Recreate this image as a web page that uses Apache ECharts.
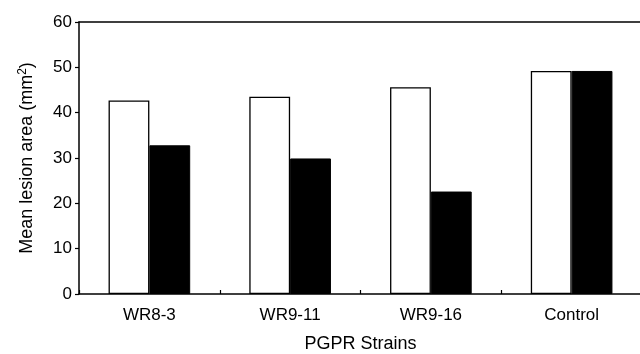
<!DOCTYPE html>
<html>
<head>
<meta charset="utf-8">
<script src="https://cdn.jsdelivr.net/npm/echarts@6/dist/echarts.min.js"></script>
<style>
html,body{margin:0;padding:0;background:#fff;}
#c{width:640px;height:354px;}
</style>
</head>
<body>
<div id="c"></div>
<script>
const categories = ['WR8-3', 'WR9-11', 'WR9-16', 'Control'];
const whiteSeries = [42.7, 43.5, 45.6, 49.2];
const blackSeries = [32.8, 29.9, 22.6, 49.2];
const yTicks = [0, 10, 20, 30, 40, 50, 60];

const font = 'Liberation Sans, Arial, sans-serif';
const chart = echarts.init(document.getElementById('c'), null, {renderer: 'canvas'});
chart.setOption({
  animation: false,
  backgroundColor: '#fff',
  grid: {left: 79, right: -2, top: 22, bottom: 60, show: false, containLabel: false, outerBoundsMode: 'none'},
  xAxis: [{
    type: 'category',
    data: categories,
    name: 'PGPR Strains',
    nameLocation: 'middle',
    nameGap: 41,
    nameTextStyle: {fontFamily: font, fontSize: 18, color: '#000'},
    axisLine: {show: true, lineStyle: {color: '#000', width: 1.5}},
    axisTick: {show: true, inside: true, length: 4, lineStyle: {color: '#000', width: 1.2}},
    axisLabel: {fontFamily: font, fontSize: 17, color: '#000', margin: 13},
    splitLine: {show: false}
  }, {
    type: 'category',
    data: categories,
    position: 'top',
    axisLine: {show: true, lineStyle: {color: '#000', width: 1.5}},
    axisTick: {show: false},
    axisLabel: {show: false},
    splitLine: {show: false}
  }],
  yAxis: {
    type: 'value',
    min: yTicks[0],
    max: yTicks[yTicks.length - 1],
    interval: 10,
    name: 'Mean lesion area (mm{sup|2})',
    nameLocation: 'middle',
    nameRotate: 90,
    nameGap: 42,
    nameTextStyle: {
      fontFamily: font, fontSize: 18, color: '#000',
      rich: {sup: {fontFamily: font, fontSize: 12, color: '#000', verticalAlign: 'top', padding: [0, 0, 8, 0]}}
    },
    axisLine: {show: true, lineStyle: {color: '#000', width: 1.5}},
    axisTick: {show: true, inside: false, length: 4, lineStyle: {color: '#000', width: 1.2}},
    axisLabel: {fontFamily: font, fontSize: 17, color: '#000', margin: 7},
    splitLine: {show: false}
  },
  series: [
    {
      name: 'A',
      type: 'bar',
      data: whiteSeries,
      barGap: '0%',
      barCategoryGap: '42%',
      itemStyle: {color: '#fff', borderColor: '#000', borderWidth: 1.3}
    },
    {
      name: 'B',
      type: 'bar',
      data: blackSeries,
      barGap: '0%',
      barCategoryGap: '42%',
      itemStyle: {color: '#000', borderColor: '#000', borderWidth: 1}
    }
  ]
});
</script>
</body>
</html>
